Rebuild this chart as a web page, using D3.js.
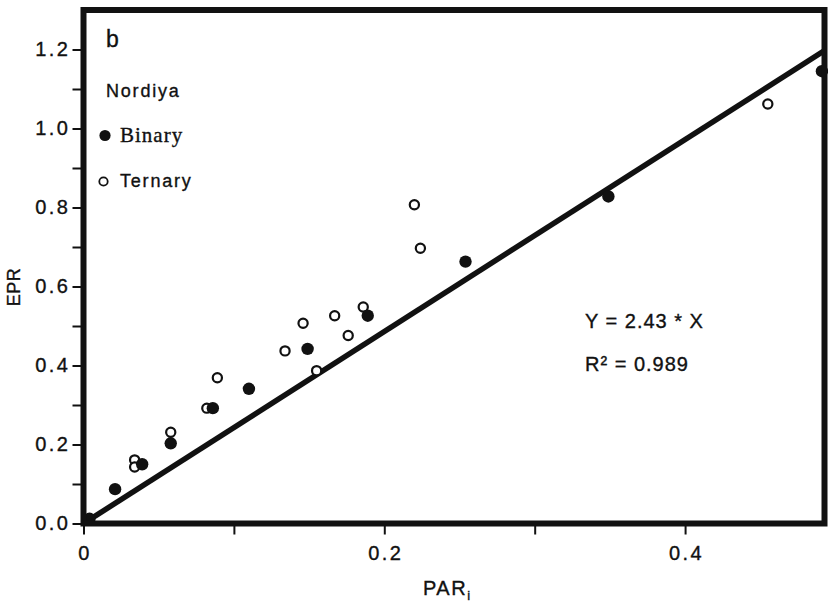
<!DOCTYPE html>
<html>
<head>
<meta charset="utf-8">
<script src="https://cdn.jsdelivr.net/npm/d3@7"></script>
<style>
  html, body { margin: 0; padding: 0; background: #fff; }
  svg { display: block; }
  text { font-family: "Liberation Sans", Arial, sans-serif; fill: #111; stroke: #111; stroke-width: 0.35px; }
</style>
</head>
<body>
<svg id="chart" width="828" height="604"></svg>
<script>
// Nordiya: EPR against intercepted PAR, binary and ternary mixtures
const binaryPAR = [0.004, 0.021, 0.039, 0.058, 0.086, 0.110, 0.149, 0.189, 0.254, 0.349, 0.491];
const binaryEPR = [0.012, 0.087, 0.150, 0.203, 0.292, 0.341, 0.442, 0.526, 0.663, 0.828, 1.145];
const ternaryPAR = [0.034, 0.034, 0.058, 0.082, 0.089, 0.134, 0.146, 0.155, 0.167, 0.176, 0.186, 0.220, 0.224, 0.455];
const ternaryEPR = [0.161, 0.143, 0.231, 0.292, 0.369, 0.437, 0.507, 0.387, 0.526, 0.476, 0.548, 0.807, 0.697, 1.062];

const slope = 2.43;
const rSquared = 0.989;

const xTicks = [0, 0.1, 0.2, 0.3, 0.4];
const xTickLabels = ["0", "", "0.2", "", "0.4"];
const yTicks = [0, 0.1, 0.2, 0.3, 0.4, 0.5, 0.6, 0.7, 0.8, 0.9, 1.0, 1.1, 1.2];
const yTickLabels = ["0.0", "", "0.2", "", "0.4", "", "0.6", "", "0.8", "", "1.0", "", "1.2"];

const legendTitle = "Nordiya";
const seriesNames = ["Binary", "Ternary"];

const svg = d3.select("#chart");
const plotLeft = 83.5, plotRight = 824.5, plotTop = 10, plotBottom = 523.5;

const x = d3.scaleLinear().domain([0, 0.4927]).range([plotLeft, plotRight]);
const y = d3.scaleLinear().domain([0, 1.3]).range([plotBottom, plotTop]);

// axes with outward ticks
const xAxis = d3.axisBottom(x)
  .tickValues(xTicks)
  .tickSize(11)
  .tickPadding(11)
  .tickFormat((d, i) => xTickLabels[i]);
const yAxis = d3.axisLeft(y)
  .tickValues(yTicks)
  .tickSize(11)
  .tickPadding(3)
  .tickFormat((d, i) => yTickLabels[i]);

const gx = svg.append("g").attr("transform", `translate(0,${plotBottom})`).call(xAxis);
const gy = svg.append("g").attr("transform", `translate(${plotLeft},0)`).call(yAxis);
[gx, gy].forEach(g => {
  g.select(".domain").remove();
  g.selectAll(".tick line").attr("stroke", "#111").attr("stroke-width", 2);
  g.selectAll(".tick text")
    .style("font-family", '"Liberation Sans", Arial, sans-serif')
    .style("font-size", "20px")
    .style("letter-spacing", "2.5px")
    .attr("fill", "#111");
});
gy.selectAll(".tick text").attr("dx", "1px");
gx.selectAll(".tick text").attr("dx", "1px");

// regression line Y = 2.43 X, clipped to the frame
svg.append("clipPath").attr("id", "plotClip")
  .append("rect").attr("x", plotLeft).attr("y", plotTop)
  .attr("width", plotRight - plotLeft).attr("height", plotBottom - plotTop);

const xs = [0, x.domain()[1]];
svg.append("path")
  .attr("clip-path", "url(#plotClip)")
  .attr("d", d3.line().x(d => x(d)).y(d => y(slope * d))(xs))
  .attr("stroke", "#111")
  .attr("stroke-width", 5.5)
  .attr("fill", "none");

// ternary (open) first, binary (filled) drawn over it
svg.append("g").selectAll("circle")
  .data(d3.range(ternaryPAR.length))
  .join("circle")
  .attr("cx", i => x(ternaryPAR[i]))
  .attr("cy", i => y(ternaryEPR[i]))
  .attr("r", 4.6)
  .attr("fill", "#fff")
  .attr("stroke", "#111")
  .attr("stroke-width", 2.2);

svg.append("g").selectAll("circle")
  .data(d3.range(binaryPAR.length))
  .join("circle")
  .attr("cx", i => x(binaryPAR[i]))
  .attr("cy", i => y(binaryEPR[i]))
  .attr("r", 6.2)
  .attr("fill", "#111");

// frame
svg.append("rect")
  .attr("x", plotLeft).attr("y", plotTop)
  .attr("width", plotRight - plotLeft).attr("height", plotBottom - plotTop)
  .attr("fill", "none")
  .attr("stroke", "#111")
  .attr("stroke-width", 6);

// panel letter and legend
svg.append("text").attr("x", 106).attr("y", 47)
  .style("font-size", "23px").text("b");

svg.append("text").attr("x", 106).attr("y", 97)
  .style("font-size", "18px").style("letter-spacing", "1.8px").text(legendTitle);

svg.append("circle").attr("cx", 105).attr("cy", 135.5).attr("r", 5.6).attr("fill", "#111");
svg.append("text").attr("x", 120).attr("y", 141.5)
  .style("font-family", '"Liberation Serif", "Times New Roman", serif')
  .style("font-size", "21px").style("letter-spacing", "1px").text(seriesNames[0]);

svg.append("circle").attr("cx", 103.5).attr("cy", 181.5).attr("r", 4.2)
  .attr("fill", "#fff").attr("stroke", "#111").attr("stroke-width", 1.8);
svg.append("text").attr("x", 120).attr("y", 187)
  .style("font-size", "18px").style("letter-spacing", "1.8px").text(seriesNames[1]);

// fit statistics
svg.append("text").attr("x", 585).attr("y", 328)
  .style("font-size", "20px").style("letter-spacing", "1px")
  .text(`Y = ${slope.toFixed(2)} * X`);
svg.append("text").attr("x", 585).attr("y", 371)
  .style("font-size", "20px").style("letter-spacing", "1px")
  .text(`R² = ${rSquared.toFixed(3)}`);

// axis titles
svg.append("text")
  .attr("transform", "translate(20,287) rotate(-90)")
  .attr("text-anchor", "middle")
  .style("font-size", "18px").style("letter-spacing", "0.5px")
  .text("EPR");

const xt = svg.append("text").attr("x", 423).attr("y", 595)
  .style("font-size", "20px").style("letter-spacing", "1.5px");
xt.append("tspan").text("PAR");
xt.append("tspan").attr("dy", 5).style("font-size", "13px").text("i");
</script>
</body>
</html>
